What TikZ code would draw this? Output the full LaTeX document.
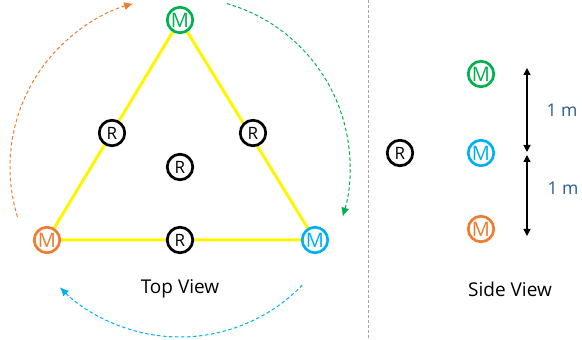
\documentclass[tikz,border=0pt]{standalone}
\usepackage{fontspec}
\setmainfont{Open Sans}
\usetikzlibrary{arrows.meta,backgrounds}
\tikzset{every node/.style={font=\fontsize{19}{22}\selectfont}}
\tikzset{ %圆圈与箭头样式
    mcirc/.style={circle, draw=#1, text=#1, line width=2.7pt, fill=white, minimum size=25.5pt, inner sep=0pt, font=\fontsize{20}{22}\selectfont},
    rcirc/.style={circle, draw=black, line width=2.7pt, fill=white, minimum size=25.5pt, inner sep=0pt, font=\fontsize{17}{19}\selectfont},
    xuxian/.style={line width=1pt, dash pattern=on 3.5pt off 2.5pt, -{Latex[length=9pt,width=8pt]}, color=#1},
    chicun/.style={line width=1.3pt, {Triangle[length=7pt,width=7pt]}-{Triangle[length=7pt,width=7pt]}},
}
\definecolor{lvse}{rgb}{0.0,0.69,0.31}
\definecolor{chengse}{rgb}{0.93,0.49,0.19}
\definecolor{lanse}{rgb}{0.0,0.69,0.94}
\definecolor{huangse}{rgb}{1,0.96,0}
\definecolor{shenlan}{rgb}{0.15,0.36,0.55}
\definecolor{huise}{rgb}{0.65,0.65,0.65}

\begin{document}
\begin{tikzpicture}[x=1pt, y=1pt]
			\useasboundingbox (0,0) rectangle (582,340);
			% 俯视图
			\node[mcirc=lvse] (mG) at (180,320) {M};
			\node[mcirc=chengse] (mO) at (47,100) {M};
			\node[mcirc=lanse] (mB) at (315,100) {M};
			\node[rcirc] (r1) at (112,207) {R};
			\node[rcirc] (r2) at (253,207) {R};
			\node[rcirc] (r3) at (180,173) {R};
			\node[rcirc] (r4) at (180,100) {R};
			\begin{pgfonlayer}{background}
				\draw[huangse, line width=3pt] (mG.center) -- (mO.center) -- (mB.center) -- cycle;
			\end{pgfonlayer}
			\coordinate (O) at (180,173);
			\draw[xuxian=chengse] (O) ++(197:170) arc[start angle=197, end angle=106, radius=170];
			\draw[xuxian=lvse] (O) ++(74:170) arc[start angle=74, end angle=-17, radius=170];
			\draw[xuxian=lanse] (O) ++(-44:170) arc[start angle=-44, end angle=-135, radius=170];
			\node (top) at (180,51) {Top View};
			% 分隔线
			\coordinate (s1) at (368,340);
			\coordinate (s2) at (368,0);
			\draw[huise, line width=0.8pt, dash pattern=on 3pt off 2pt] (s1) -- (s2);
			% 侧视图
			\node[rcirc] (r5) at (400,187) {R};
			\node[mcirc=lvse] (sG) at (481,266) {M};
			\node[mcirc=lanse] (sB) at (481,187) {M};
			\node[mcirc=chengse] (sO) at (481,111) {M};
			\coordinate (a1) at (527,272);
			\coordinate (a2) at (527,188);
			\coordinate (a3) at (527,185);
			\coordinate (a4) at (527,104);
			\draw[chicun] (a1) -- (a2);
			\draw[chicun] (a3) -- (a4);
			\node[text=shenlan, font=\fontsize{17.5}{20}\selectfont] (d1) at (562,230) {1 m};
			\node[text=shenlan, font=\fontsize{17.5}{20}\selectfont] (d2) at (563,152) {1 m};
			\node (side) at (510,51) {Side View};
		\end{tikzpicture}
\end{document}
